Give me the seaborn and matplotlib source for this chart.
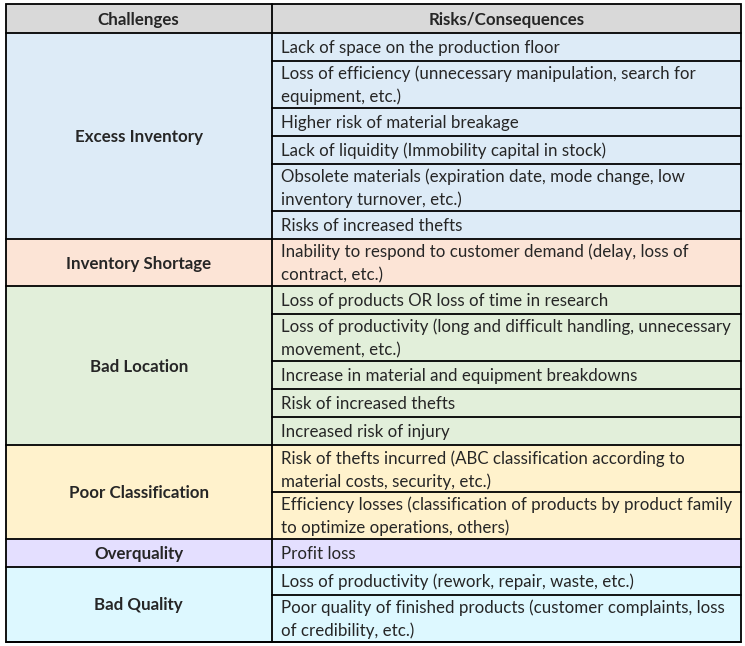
import matplotlib
matplotlib.use("Agg")
import matplotlib.pyplot as plt
from matplotlib.patches import Rectangle
import seaborn as sns

# Table content
headers = ["Challenges", "Risks/Consequences"]
challenges = ["Excess Inventory", "Inventory Shortage", "Bad Location",
              "Poor Classification", "Overquality", "Bad Quality"]
risks = [
    ["Lack of space on the production floor",
     "Loss of efficiency (unnecessary manipulation, search for\nequipment, etc.)",
     "Higher risk of material breakage",
     "Lack of liquidity (Immobility capital in stock)",
     "Obsolete materials (expiration date, mode change, low\ninventory turnover, etc.)",
     "Risks of increased thefts"],
    ["Inability to respond to customer demand (delay, loss of\ncontract, etc.)"],
    ["Loss of products OR loss of time in research",
     "Loss of productivity (long and difficult handling, unnecessary\nmovement, etc.)",
     "Increase in material and equipment breakdowns",
     "Risk of increased thefts",
     "Increased risk of injury"],
    ["Risk of thefts incurred (ABC classification according to\nmaterial costs, security, etc.)",
     "Efficiency losses (classification of products by product family\nto optimize operations, others)"],
    ["Profit loss"],
    ["Loss of productivity (rework, repair, waste, etc.)",
     "Poor quality of finished products (customer complaints, loss\nof credibility, etc.)"],
]
group_colors = ["#DDEBF7", "#FCE4D6", "#E2EFDA", "#FFF2CC", "#E4DFFF", "#DDF8FF"]
header_color = "#D9D9D9"

sns.set_theme(style="white")
plt.rcParams['font.family'] = ['Lato', 'DejaVu Sans']

W, H = 745, 646
fig = plt.figure(figsize=(W / 100, H / 100), dpi=100)
ax = fig.add_axes([0, 0, 1, 1])
ax.set_xlim(0, W)
ax.set_ylim(H, 0)
ax.axis("off")

x0, xm, x1 = 5.5, 272, 741
top, head_h = 4, 29
row1, extra = 28.2, 18.5
gap = 23
fs = 12.2
lc = "black"
lw = 1.3

# header
ax.add_patch(Rectangle((x0, top), x1 - x0, head_h, facecolor=header_color, edgecolor="none"))
ax.text((x0 + xm) / 2, top + head_h / 2 + 1, headers[0], ha="center", va="center",
        fontsize=fs, fontweight="bold")
ax.text((xm + x1) / 2, top + head_h / 2 + 1, headers[1], ha="center", va="center",
        fontsize=fs, fontweight="bold")

y = top + head_h
for name, items, col in zip(challenges, risks, group_colors):
    heights = [row1 + extra * (s.count("\n")) for s in items]
    gh = sum(heights)
    ax.add_patch(Rectangle((x0, y), x1 - x0, gh, facecolor=col, edgecolor="none"))
    ax.text((x0 + xm) / 2, y + gh / 2 + 1, name, ha="center", va="center",
            fontsize=fs, fontweight="bold")
    yy = y
    for s, h in zip(items, heights):
        lines = s.split("\n")
        c = yy + h / 2 + 1
        for k, ln in enumerate(lines):
            ly = c + (k - (len(lines) - 1) / 2) * gap
            ax.text(281, ly, ln, ha="left", va="center", fontsize=fs)
        yy += h
        if yy < y + gh - 0.5:
            ax.plot([xm, x1], [yy, yy], color=lc, lw=lw)
    y += gh
    ax.plot([x0, x1], [y, y], color=lc, lw=lw)

ax.plot([x0, x1], [top + head_h, top + head_h], color=lc, lw=lw)
ax.plot([xm, xm], [top, y], color=lc, lw=lw)
ax.add_patch(Rectangle((x0, top), x1 - x0, y - top, facecolor="none", edgecolor=lc, lw=lw))

fig.savefig("out.png", dpi=100, facecolor="white")
